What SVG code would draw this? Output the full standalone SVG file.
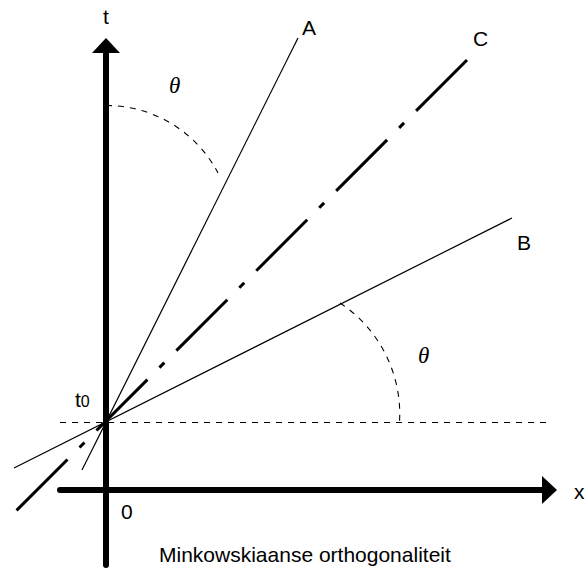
<svg xmlns="http://www.w3.org/2000/svg" width="585" height="571" viewBox="0 0 585 571">
<style>
.lbl{font-family:"Liberation Sans",Arial,sans-serif;font-size:21px;fill:#000}
.th{font-family:"Liberation Serif","Times New Roman",serif;font-style:italic;font-size:23px;fill:#000}
.axis{stroke:#000;stroke-width:6;stroke-linecap:round;fill:none}
.thin{stroke:#000;stroke-width:1.2;fill:none}
.dash{stroke:#000;stroke-width:1.1;fill:none;stroke-dasharray:6 6}
</style>
<rect width="585" height="571" fill="#fff"/>
<g id="connectors">
  <line id="ref-line" class="dash" x1="60" y1="422.5" x2="546" y2="422.5"/>
  <line id="line-A" class="thin" x1="82" y1="470" x2="298" y2="38"/>
  <line id="line-B" class="thin" x1="14" y1="468" x2="512" y2="218"/>
  <line id="line-C" x1="467" y1="60" x2="9" y2="518" stroke="#000" stroke-width="3" stroke-dasharray="72 17 7 17"/>
  <path id="arc-top" class="dash" stroke-dasharray="8 6" d="M106,105.5 A126,126 0 0 1 218,173"/>
  <path id="arc-bottom" class="dash" stroke-dasharray="8 6" d="M340,303 A133,133 0 0 1 399.5,422"/>
</g>
<g id="t-axis">
  <line class="axis" x1="106" y1="52" x2="106" y2="565"/>
  <polygon points="106,38 92,53 120,53" fill="#000"/>
  <text class="lbl" x="106" y="24" text-anchor="middle">t</text>
</g>
<g id="x-axis">
  <line class="axis" x1="60" y1="490" x2="544" y2="490"/>
  <polygon points="557,490 542,476 542,504" fill="#000"/>
  <text class="lbl" x="574" y="499">x</text>
</g>
<g id="label-A"><text class="lbl" x="302" y="35">A</text></g>
<g id="label-B"><text class="lbl" x="517" y="250">B</text></g>
<g id="label-C"><text class="lbl" x="473" y="46">C</text></g>
<g id="label-t0"><text class="lbl" x="75" y="407">t<tspan font-size="16">0</tspan></text></g>
<g id="label-0"><text class="lbl" x="121" y="519">0</text></g>
<g id="theta-top"><text class="th" x="169" y="93">θ</text></g>
<g id="theta-bottom"><text class="th" x="418" y="363">θ</text></g>
<g id="caption"><text class="lbl" x="159" y="562" font-size="19.7">Minkowskiaanse orthogonaliteit</text></g>
</svg>
